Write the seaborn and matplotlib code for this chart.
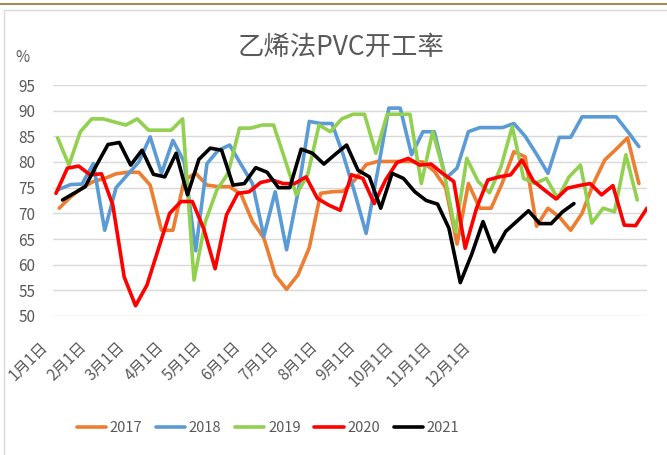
import pandas as pd
import numpy as np
import seaborn as sns
import matplotlib.pyplot as plt
from matplotlib.lines import Line2D
from matplotlib.transforms import ScaledTranslation


# Data (weekly operating rate, %)

years = [2017, 2018, 2019, 2020, 2021]
first_dates = ["2017-01-05", "2018-01-05", "2019-01-04", "2020-01-03", "2021-01-07"]

rate_2017 = [71.0, 73.2, 74.9, 76.2, 76.8, 77.7, 78.0, 78.0, 75.5, 66.7,
             66.7, 76.5, 77.8, 75.5, 75.2, 75.2, 73.7, 68.4, 65.2, 58.0,
             55.2, 58.0, 63.3, 73.9, 74.2, 74.3, 76.5, 79.5, 80.1, 80.1,
             80.1, 80.1, 80.0, 78.2, 75.0, 64.0, 75.8, 71.0, 71.0, 76.0,
             82.0, 81.0, 67.5, 71.0, 69.3, 66.7, 70.0, 75.8, 80.4, 82.5,
             84.7, 75.8]
rate_2018 = [74.7, 75.6, 75.7, 79.7, 66.7, 75.0, 77.5, 80.0, 84.9, 77.8,
             84.2, 80.0, 62.7, 79.7, 82.3, 83.3, 79.5, 75.8, 65.5, 74.2,
             62.9, 74.0, 87.9, 87.5, 87.5, 81.3, 74.0, 66.1, 78.0, 90.5,
             90.5, 81.4, 85.9, 85.9, 76.8, 78.8, 85.9, 86.7, 86.7, 86.7,
             87.5, 85.0, 81.5, 77.8, 84.8, 84.8, 88.8, 88.8, 88.8, 88.8,
             86.0, 83.0]
rate_2019 = [84.7, 79.4, 85.9, 88.4, 88.4, 87.8, 87.2, 88.4, 86.2, 86.2,
             86.2, 88.4, 57.0, 68.4, 74.5, 77.8, 86.6, 86.6, 87.2, 87.2,
             80.5, 73.6, 77.5, 87.2, 85.9, 88.4, 89.3, 89.3, 81.7, 89.3,
             89.3, 89.3, 75.8, 85.9, 78.0, 66.4, 80.7, 76.2, 74.0, 79.0,
             86.9, 76.8, 75.8, 76.8, 72.9, 77.1, 79.4, 68.1, 71.0, 70.3,
             81.4, 72.6]
rate_2020 = [73.9, 78.8, 79.2, 77.5, 77.7, 71.6, 57.6, 52.0, 56.0, 63.0,
             70.0, 72.3, 72.3, 67.0, 59.2, 69.7, 73.9, 74.2, 76.0, 76.5,
             75.8, 75.8, 77.1, 72.9, 71.6, 70.6, 77.5, 76.8, 71.9, 76.5,
             79.9, 80.7, 79.4, 79.6, 77.8, 76.2, 63.2, 71.0, 76.5, 77.1,
             77.5, 80.4, 76.3, 74.5, 72.8, 74.9, 75.4, 75.8, 73.6, 75.4,
             67.7, 67.6, 71.0]
rate_2021 = [72.6, 73.9, 75.2, 79.4, 83.4, 83.8, 79.4, 82.3, 77.6, 77.1,
             81.7, 73.6, 80.5, 82.7, 82.3, 75.5, 75.8, 78.9, 78.0, 75.0,
             75.0, 82.5, 81.7, 79.6, 81.5, 83.3, 78.4, 77.1, 71.0, 77.8,
             76.8, 74.2, 72.5, 71.8, 67.1, 56.5, 62.0, 68.4, 62.5, 66.5,
             68.5, 70.5, 68.0, 68.0, 70.3, 71.9]

month_labels = ["1月1日", "2月1日", "3月1日", "4月1日", "5月1日", "6月1日",
                "7月1日", "8月1日", "9月1日", "10月1日", "11月1日", "12月1日"]

colors = ["#ED7D31", "#5B9BD5", "#92D050", "#FF0000", "#000000"]

# long table: day of year for each weekly reading
rates = [rate_2017, rate_2018, rate_2019, rate_2020, rate_2021]
frames = []
for yr, start, vals in zip(years, first_dates, rates):
    dates = pd.date_range(start, periods=len(vals), freq="7D")
    day = (dates - pd.Timestamp(f"{yr}-01-01")).days
    frames.append(pd.DataFrame({"day": day, "rate": vals, "year": str(yr)}))
df = pd.concat(frames, ignore_index=True)


# Plot

sns.set_theme(style="white")
plt.rcParams["font.family"] = ["Noto Sans CJK SC", "DejaVu Sans"]
grey = "#595959"

fig = plt.figure(figsize=(6.67, 4.55), dpi=100)
ax = fig.add_axes([52.75 / 667, 1 - 316 / 455, (647 - 52.75) / 667, (316 - 85) / 455])

sns.lineplot(data=df, x="day", y="rate", hue="year",
             hue_order=[str(y) for y in years],
             palette=dict(zip([str(y) for y in years], colors)),
             linewidth=2.6, sort=False, ax=ax,
             solid_joinstyle="round", solid_capstyle="round")

ax.set_xlim(0, 366)
ax.set_ylim(50, 95)
ax.set_yticks(range(50, 96, 5))
ax.yaxis.grid(True, color="#D9D9D9", linewidth=1)
ax.xaxis.grid(False)
ax.set_axisbelow(True)
sns.despine(ax=ax, left=True, bottom=True)
ax.set_xlabel("")
ax.set_ylabel("")
ax.tick_params(axis="y", length=0, pad=12.5, labelsize=11, labelcolor=grey)
ax.tick_params(axis="x", length=0, pad=16)

tick_days = np.arange(12) * 23.65
ax.set_xticks(tick_days)
ax.set_xticklabels(month_labels, rotation=45, ha="right", va="top",
                   fontsize=11, color=grey)
shift = ScaledTranslation(-1.0 / 100, 0, fig.dpi_scale_trans)
for lbl in ax.get_xticklabels():
    lbl.set_transform(lbl.get_transform() + shift)

handles, labels = ax.get_legend_handles_labels()
ax.get_legend().remove()
fig.legend(handles, labels, loc="center", bbox_to_anchor=(268 / 667, 1 - 428 / 455),
           ncol=5, frameon=False, fontsize=10.5, labelcolor=grey,
           handlelength=2.0, handletextpad=0.25, columnspacing=0.95)

fig.text(341 / 667, 1 - 47 / 455, "乙烯法PVC开工率", ha="center", va="center",
         fontsize=19, color=grey)
fig.text(22 / 667, 1 - 58 / 455, "%", ha="center", va="center",
         fontsize=11, color=grey)

# chart frame and page rule
fig.add_artist(Line2D([0, 1], [1 - 3.5 / 455] * 2, color="#A38C5A", lw=1.5,
                      transform=fig.transFigure))
fig.add_artist(Line2D([4 / 667, 1], [1 - 10 / 455] * 2, color="#D9D9D9", lw=1,
                      transform=fig.transFigure))
fig.add_artist(Line2D([4 / 667] * 2, [0, 1 - 10 / 455], color="#D9D9D9", lw=1,
                      transform=fig.transFigure))

fig.savefig("out.png", dpi=100)
